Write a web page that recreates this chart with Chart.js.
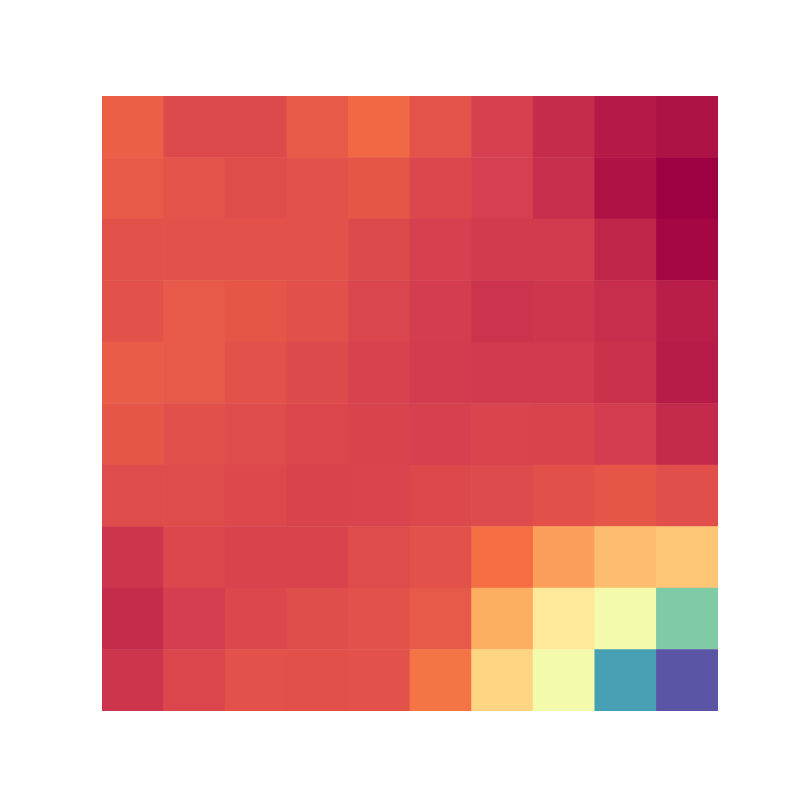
<!DOCTYPE html>
<html>
<head>
<meta charset="utf-8">
<script src="https://cdn.jsdelivr.net/npm/chart.js@4/dist/chart.umd.min.js"></script>
<style>
html,body{margin:0;padding:0;background:#ffffff;}
#wrap{width:800px;height:800px;}
</style>
</head>
<body>
<div id="wrap"><canvas id="c" width="800" height="800"></canvas></div>
<script>
// Column categories (x) and row categories (y, top to bottom)
const columns = ["0","1","2","3","4","5","6","7","8","9"];
const rows = ["0","1","2","3","4","5","6","7","8","9"];

// Cell values per row (top row first), normalized 0..1
const row0 = [0.17, 0.125, 0.125, 0.16, 0.19, 0.145, 0.105, 0.071, 0.04, 0.029];
const row1 = [0.16, 0.145, 0.135, 0.143, 0.152, 0.12, 0.102, 0.073, 0.03, 0.0];
const row2 = [0.143, 0.143, 0.143, 0.143, 0.125, 0.105, 0.094, 0.094, 0.06, 0.01];
const row3 = [0.143, 0.157, 0.15, 0.138, 0.117, 0.098, 0.083, 0.087, 0.074, 0.047];
const row4 = [0.163, 0.157, 0.142, 0.125, 0.108, 0.096, 0.092, 0.092, 0.08, 0.045];
const row5 = [0.152, 0.138, 0.13, 0.118, 0.11, 0.104, 0.112, 0.11, 0.098, 0.067];
const row6 = [0.13, 0.13, 0.122, 0.11, 0.112, 0.122, 0.128, 0.14, 0.15, 0.136];
const row7 = [0.085, 0.12, 0.11, 0.11, 0.13, 0.142, 0.2, 0.275, 0.33, 0.345];
const row8 = [0.07, 0.1, 0.12, 0.135, 0.142, 0.157, 0.3, 0.43, 0.55, 0.765];
const row9 = [0.085, 0.118, 0.142, 0.14, 0.142, 0.21, 0.38, 0.55, 0.86, 0.99];
const grid = [row0,row1,row2,row3,row4,row5,row6,row7,row8,row9];

// Spectral colormap stops
const spectral = [[158,1,66],[213,62,79],[244,109,67],[253,174,97],[254,224,139],[255,255,191],[230,245,152],[171,221,164],[102,194,165],[50,136,189],[94,79,162]];
function cmap(v){
  v = Math.max(0, Math.min(1, v));
  const p = v*10, i = Math.min(9, Math.floor(p)), t = p - i;
  const a = spectral[i], b = spectral[i+1];
  const c = a.map((x,k)=>Math.round(x + (b[k]-x)*t));
  return `rgb(${c[0]},${c[1]},${c[2]})`;
}

// Stacked bars: bottom row first
const datasets = [];
for (let r = rows.length-1; r >= 0; r--) {
  datasets.push({
    label: rows[r],
    data: columns.map(()=>1),
    backgroundColor: grid[r].map(cmap),
    borderWidth: 0,
    barPercentage: 1,
    categoryPercentage: 1
  });
}

new Chart(document.getElementById('c'), {
  type: 'bar',
  data: { labels: columns, datasets },
  options: {
    responsive: false,
    maintainAspectRatio: false,
    animation: false,
    layout: { padding: { left: 102, right: 82, top: 96, bottom: 89 } },
    plugins: { legend: { display: false }, tooltip: { enabled: false } },
    scales: {
      x: { stacked: true, display: false, offset: true },
      y: { stacked: true, display: false, min: 0, max: 10 }
    }
  }
});
</script>
</body>
</html>
